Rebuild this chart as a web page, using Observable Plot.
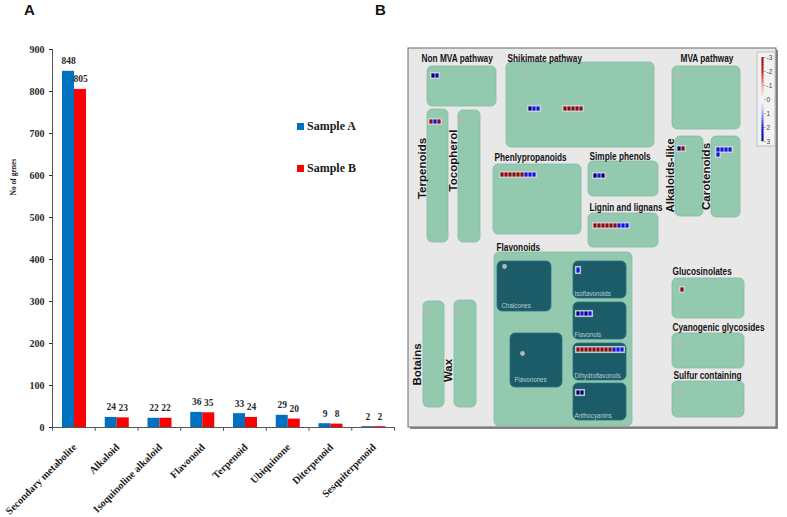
<!DOCTYPE html>
<html><head><meta charset="utf-8">
<script src="https://cdn.jsdelivr.net/npm/d3@7"></script>
<script src="https://cdn.jsdelivr.net/npm/@observablehq/plot@0.6"></script>
<style>
body{margin:0;background:#fff;}
#wrap{position:relative;width:787px;height:517px;overflow:hidden;}
.abs{position:absolute;}
.letter{font-family:"Liberation Sans",Arial,sans-serif;font-weight:bold;font-size:15px;color:#111;}
.leg{font-family:"Liberation Serif","Times New Roman",serif;font-weight:bold;font-size:12px;color:#1a1a1a;white-space:nowrap;}
.sw{display:inline-block;width:7px;height:7px;margin-right:3px;vertical-align:0px;}
</style></head><body><div id="wrap"></div>
<script>
// ---------- Panel A data ----------
const categories = ["Secondary metabolite","Alkaloid","Isoquinoline alkaloid","Flavonoid","Terpenoid","Ubiquinone","Diterpenoid","Sesquiterpenoid"];
const sampleA = [848,24,22,36,33,29,9,2];
const sampleB = [805,23,22,35,24,20,8,2];
const seriesNames = ["Sample A","Sample B"];
const seriesColors = ["#0070C0","#FF0000"];
const yTicks = [0,100,200,300,400,500,600,700,800,900];
const yTitle = "No of genes";

// ---------- Panel B data ----------
const pathwayBoxes = [
  {name:"Non MVA pathway", x1:427,x2:496,y1:66,y2:106},
  {name:"Shikimate pathway", x1:506,x2:654,y1:62,y2:147},
  {name:"MVA pathway", x1:672,x2:740,y1:66,y2:129},
  {name:"Terpenoids", x1:427,x2:448,y1:109,y2:242},
  {name:"Tocopherol", x1:458,x2:480,y1:110,y2:242},
  {name:"Phenlypropanoids", x1:493,x2:581,y1:164,y2:234},
  {name:"Simple phenols", x1:588,x2:658,y1:161,y2:196},
  {name:"Lignin and lignans", x1:588,x2:658,y1:213,y2:247},
  {name:"Alkaloids-like", x1:675,x2:703,y1:136,y2:216},
  {name:"Carotenoids", x1:711,x2:740,y1:136,y2:217},
  {name:"Flavonoids", x1:494,x2:632,y1:252,y2:426},
  {name:"Botains", x1:423,x2:444,y1:301,y2:407},
  {name:"Wax", x1:454,x2:476,y1:300,y2:407},
  {name:"Glucosinolates", x1:672,x2:744,y1:278,y2:318},
  {name:"Cyanogenic glycosides", x1:672,x2:744,y1:333,y2:368},
  {name:"Sulfur containing", x1:672,x2:744,y1:381,y2:417}
];
const flavonoidBoxes = [
  {name:"Chalcones", x1:497,x2:551,y1:261,y2:311},
  {name:"Flavonones", x1:510,x2:562,y1:333,y2:387},
  {name:"Isoflavonoids", x1:573,x2:626,y1:261,y2:298},
  {name:"Flavonols", x1:573,x2:626,y1:302,y2:339},
  {name:"Dihydroflavonols", x1:573,x2:626,y1:343,y2:380},
  {name:"Anthocyanins", x1:573,x2:626,y1:383,y2:420}
];
const titleLabels = [
  {t:"Non MVA pathway", x:421, y:57.5},
  {t:"Shikimate pathway", x:507, y:57.5},
  {t:"MVA pathway", x:680, y:57.5},
  {t:"Phenlypropanoids", x:494, y:157},
  {t:"Simple phenols", x:589, y:156},
  {t:"Lignin and lignans", x:589, y:207},
  {t:"Flavonoids", x:496, y:247},
  {t:"Glucosinolates", x:672, y:271},
  {t:"Cyanogenic glycosides", x:672, y:327},
  {t:"Sulfur containing", x:673, y:375}
];
const verticalLabels = [
  {t:"Terpenoids", x:421.5, y:168},
  {t:"Tocopherol", x:452.5, y:160},
  {t:"Alkaloids-like", x:669.5, y:175},
  {t:"Carotenoids", x:705.5, y:176},
  {t:"Botains", x:416.5, y:364},
  {t:"Wax", x:447.5, y:370}
];
const subLabels = [
  {t:"Chalcones", x:501, y:305},
  {t:"Flavonones", x:514, y:379},
  {t:"Isoflavonoids", x:574, y:293},
  {t:"Flavonols", x:574, y:334},
  {t:"Dihydroflavonols", x:574, y:375},
  {t:"Anthocyanins", x:574, y:415}
];
const emptyDots = [
  {x:527,y:74},{x:461,y:118},{x:677,y:75},{x:504,y:266},{x:522,y:353},
  {x:427,y:313},{x:457,y:313},{x:678,y:343},{x:678,y:392}
];
// gene cell groups: log fold change values (negative = red, positive = blue)
const nonMvaGenes = [3,2.5];
const shikimateGenes1 = [3,2,2];
const shikimateGenes2 = [-3,-3,-3,-3,-3];
const terpenoidGenes = [-3,2,-3];
const phenylGenes = [-3,-3,-3,-3,-3,-3,2,2,2];
const simplePhenolGenes = [3,2,3];
const ligninGenes = [-3,-3,-3,-3,-3,-3,2,2,2];
const alkaloidGenes = [3,-3];
const caroteneGenes1 = [2,2,2,2];
const caroteneGenes2 = [2];
const isoflavGenes = [2];
const flavonolGenes = [3,2,3,2];
const dihydroGenes = [-3,-3,-3,-3,-3,-3,-3,-3,-3,2,2,2];
const anthoGenes = [3,3];
const glucoGenes = [-3];
const cellGroups = [
  {vals:nonMvaGenes, x:431, y:73},
  {vals:shikimateGenes1, x:528, y:106},
  {vals:shikimateGenes2, x:563, y:106},
  {vals:terpenoidGenes, x:429, y:119},
  {vals:phenylGenes, x:500, y:172},
  {vals:simplePhenolGenes, x:593, y:173},
  {vals:ligninGenes, x:593, y:223},
  {vals:alkaloidGenes, x:677, y:146},
  {vals:caroteneGenes1, x:716, y:147},
  {vals:caroteneGenes2, x:716, y:152},
  {vals:isoflavGenes, x:576, y:267, h:6},
  {vals:flavonolGenes, x:576, y:311},
  {vals:dihydroGenes, x:576, y:347},
  {vals:anthoGenes, x:576, y:390},
  {vals:glucoGenes, x:680, y:287}
];
const legendTicks = [-3,-2,-1,0,1,2,3];
const heatDomain = [-3,-2,-1,0,1,2,3];
const heatRange = ["#8a0c0c","#d81818","#f2a0a0","#ffffff","#a0a0f5","#1414e0","#00007a"];

// ---------- Build panel A ----------
const wrap = document.getElementById("wrap");
const bw = 342/8;
const barsA = categories.map((c,i)=>({cat:c, s:seriesNames[0], v:sampleA[i]}));
const barsB = categories.map((c,i)=>({cat:c, s:seriesNames[1], v:sampleB[i]}));
const serif = "Liberation Serif, Times New Roman, serif";

const plotA = Plot.plot({
  width: 400, height: 517,
  marginLeft: 52, marginRight: 6, marginTop: 49, marginBottom: 90,
  style: {fontFamily: serif, fontSize: "10px", fontWeight: "bold", color: "#2a2a2a", background: "transparent"},
  x: {domain: categories, padding: 0, round: false, axis: null},
  y: {domain: [0,900], ticks: yTicks, tickSize: 3, tickPadding: 5, label: null},
  color: {domain: seriesNames, range: seriesColors},
  marks: [
    Plot.barY(barsA, {x:"cat", y:"v", fill:"s", insetLeft: 10, insetRight: bw-22}),
    Plot.barY(barsB, {x:"cat", y:"v", fill:"s", insetLeft: 22, insetRight: bw-34}),
    Plot.ruleY([0], {stroke:"#555"}),
    Plot.ruleX([categories[0]], {dx: -bw/2, y1: 0, y2: 900, stroke:"#555"}),
    Plot.ruleX(categories, {dx: -bw/2, y1: 0, y2: -9, stroke:"#555"}),
    Plot.ruleX([categories[categories.length-1]], {dx: bw/2, y1: 0, y2: -9, stroke:"#555"}),
    Plot.text(barsA, {x:"cat", y:"v", text: d=>String(d.v), dx: 16-bw/2, dy: -10, fontSize: 9.5, fontWeight:"bold", fill:"#2a2a2a"}),
    Plot.text(barsB, {x:"cat", y:"v", text: d=>String(d.v), dx: 28-bw/2, dy: -10, fontSize: 9.5, fontWeight:"bold", fill:"#2a2a2a"}),
    Plot.text(categories, {x: d=>d, y: 0, text: d=>d, rotate: -45, textAnchor: "end", dx: 1, dy: 18, fontSize: 10.3, fontWeight:"bold", fill:"#1a1a1a"}),
    Plot.text([yTitle], {frameAnchor:"left", text: d=>d, rotate: -90, dx: -39, dy: -43, fontSize: 7.5, fontWeight:"bold", fill:"#1a1a1a"})
  ]
});
plotA.classList.add("abs");
plotA.style.left = "0px"; plotA.style.top = "0px";
wrap.appendChild(plotA);

// ---------- Build panel B ----------
const cw = 4, ch = 5;
const cells = cellGroups.flatMap(g => g.vals.map((v,i)=>({v, x1:g.x+i*cw, x2:g.x+(i+1)*cw, y1:g.y, y2:g.y+(g.h||ch)})));
const groupFrames = cellGroups.map(g => ({x1:g.x-0.8, x2:g.x+g.vals.length*cw+0.8, y1:g.y-0.8, y2:g.y+(g.h||ch)+0.8}));
const legScale = d3.scaleLinear().domain([-3,3]).range([57,141]);
const legSteps = d3.range(-3,3,0.1).map(v=>({v, y1:legScale(v), y2:legScale(v+0.1)+0.3}));
const legTickData = legendTicks.map(v=>({v, y:legScale(v)}));
const sansN = "Liberation Sans Narrow, Arial Narrow, Liberation Sans, Arial, sans-serif";

const plotB = Plot.plot({
  width: 387, height: 395, margin: 0,
  style: {background:"transparent"},
  x: {domain:[400,787], axis:null},
  y: {domain:[40,435], range:[0,395], axis:null},
  color: {type:"linear", domain: heatDomain, range: heatRange},
  marks: [
    Plot.rect([{x1:410,x2:778,y1:50,y2:429}], {x1:"x1",x2:"x2",y1:"y1",y2:"y2", fill:"#8a8a8a"}),
    Plot.rect([{x1:408,x2:776,y1:48,y2:427}], {x1:"x1",x2:"x2",y1:"y1",y2:"y2", fill:"#e8e8e8", stroke:"#6a6a6a", strokeWidth:1}),
    Plot.rect(pathwayBoxes, {x1:"x1",x2:"x2",y1:"y1",y2:"y2", fill:"#93c9af", stroke:"#86bca2", strokeWidth:0.8, rx:5}),
    Plot.rect(flavonoidBoxes, {x1:"x1",x2:"x2",y1:"y1",y2:"y2", fill:"#1c5b68", stroke:"#2f7280", strokeWidth:0.8, rx:5}),
    Plot.dot(emptyDots, {x:"x", y:"y", r:2.4, fill:"#b4b9b7", stroke:"none"}),
    Plot.rect(groupFrames, {x1:"x1",x2:"x2",y1:"y1",y2:"y2", fill:"#d8dde0", stroke:"#c8cdd0", strokeWidth:0.5}),
    Plot.rect(cells, {x1:"x1",x2:"x2",y1:"y1",y2:"y2", fill:"v", inset:0.4}),
    Plot.text(titleLabels, {x:"x", y:"y", text:"t", textAnchor:"start", fontSize:11.5, fontWeight:"bold", fontFamily:sansN, fill:"#141414"}),
    Plot.text(verticalLabels, {x:"x", y:"y", text:"t", rotate:-90, fontSize:11.5, fontWeight:"bold", fontFamily:"Liberation Sans, Arial, sans-serif", fill:"#141414"}),
    Plot.text(subLabels, {x:"x", y:"y", text:"t", textAnchor:"start", fontSize:8, fontFamily:sansN, fill:"#b9cfd3"}),
    // colour key
    Plot.rect([{x1:757,x2:775,y1:52,y2:146}], {x1:"x1",x2:"x2",y1:"y1",y2:"y2", fill:"#f2f2f2", stroke:"#b5b5b5", strokeWidth:0.8}),
    Plot.rect(legSteps, {x1:761.5, x2:763.5, y1:"y1", y2:"y2", fill:"v"}),
    Plot.ruleY(legTickData, {y:"y", x1:764, x2:765.5, stroke:"#666", strokeWidth:0.6}),
    Plot.text(legTickData, {x:766, y:"y", text: d=>String(d.v), textAnchor:"start", fontSize:6.5, fontFamily:"Liberation Sans, Arial, sans-serif", fill:"#444"})
  ]
});
plotB.classList.add("abs");
plotB.style.left = "400px"; plotB.style.top = "40px";
wrap.appendChild(plotB);

// condense the narrow-style labels horizontally (no condensed font installed)
d3.select(plotB).selectAll('g[font-family^="Liberation Sans Narrow"] text').each(function(){
  const fs = +this.parentNode.getAttribute("font-size") || 10;
  const k = fs > 10 ? 0.72 : 0.78;
  const tr = this.getAttribute("transform");
  if (tr) this.setAttribute("transform", tr + ` scale(${k},1)`);
});

// ---------- Letters and legend ----------
function addDiv(cls, html, left, top){
  const d = document.createElement("div");
  d.className = "abs " + cls; d.innerHTML = html;
  d.style.left = left + "px"; d.style.top = top + "px";
  wrap.appendChild(d); return d;
}
addDiv("letter", "A", 24, 1);
addDiv("letter", "B", 375, 1);
seriesNames.forEach((s,i)=>{
  addDiv("leg", `<span class="sw" style="background:${seriesColors[i]}"></span>${s}`, 297, 119 + i*42);
});
</script></body></html>
